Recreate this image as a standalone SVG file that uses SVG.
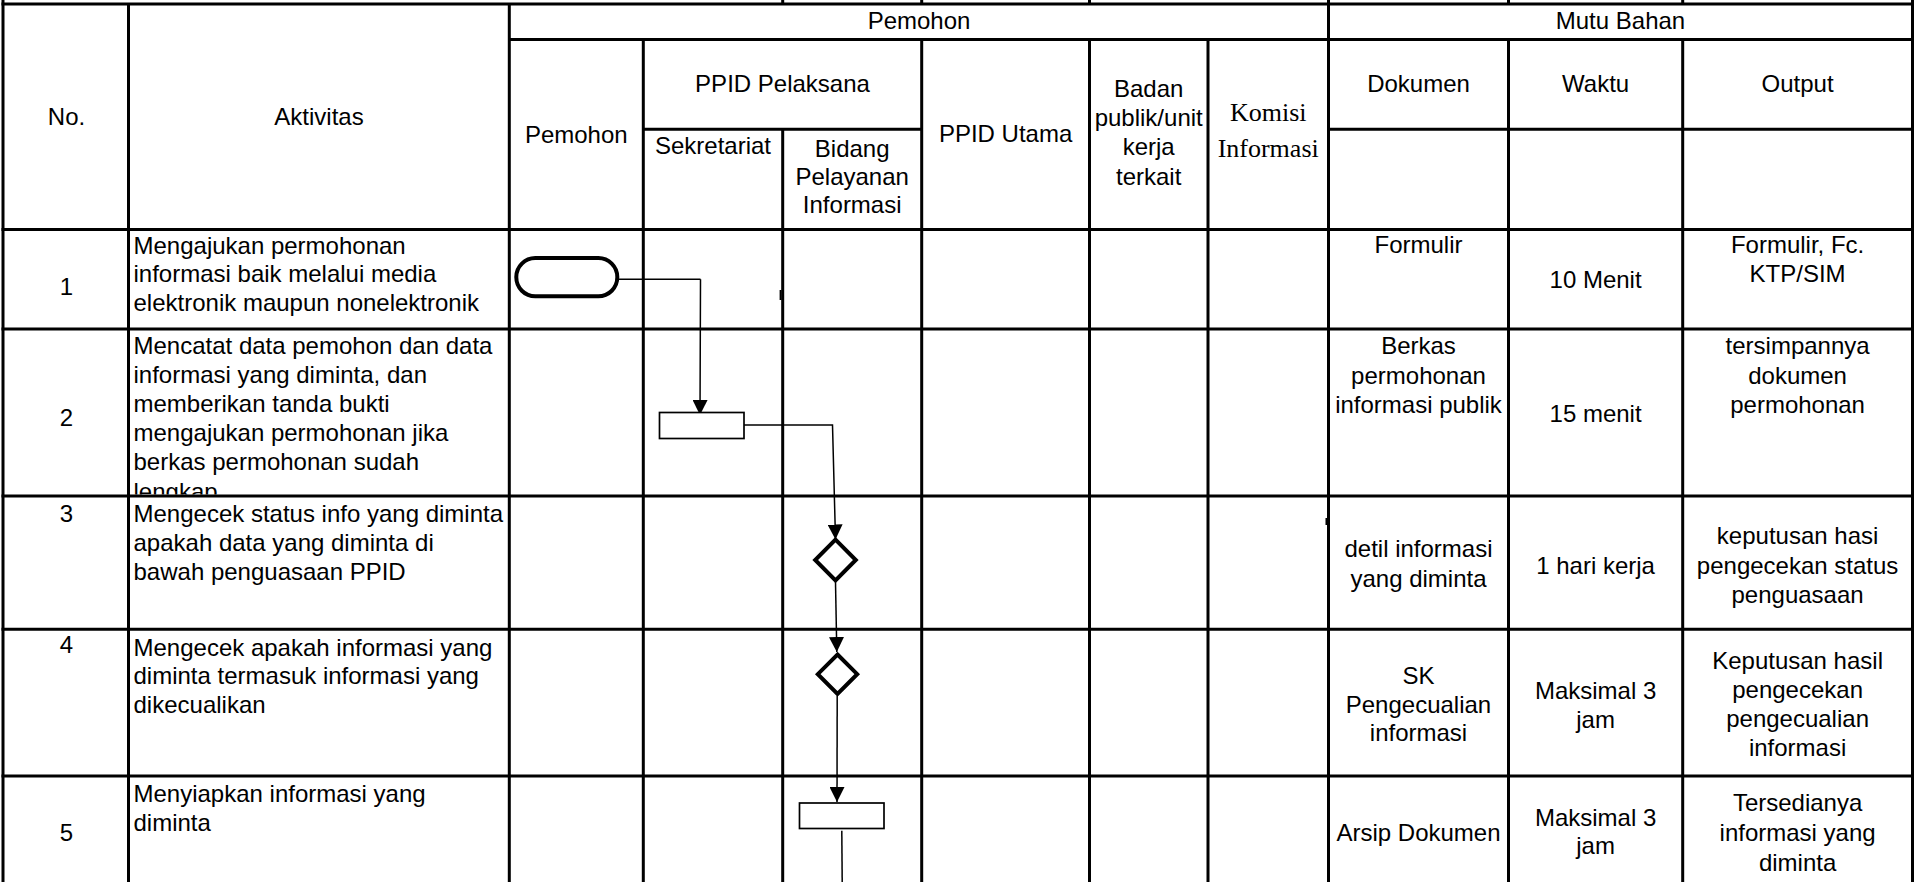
<svg xmlns="http://www.w3.org/2000/svg" width="1915" height="882" viewBox="0 0 1915 882">
<style>
.grid{stroke:#000;stroke-width:3;fill:none}
.t{font-family:"Liberation Sans",Arial,sans-serif;font-size:24px;fill:#000}
.c{text-anchor:middle}
.s{font-family:"Liberation Serif","Times New Roman",serif;font-size:26px;fill:#000;text-anchor:middle}
.thick{fill:#fff;stroke:#000;stroke-width:4}
.thin{fill:#fff;stroke:#000;stroke-width:1.7}
.conn{fill:none;stroke:#000;stroke-width:1.5}
</style>
<defs>
<marker id="arr" markerUnits="userSpaceOnUse" markerWidth="15" markerHeight="15" refX="15" refY="7.5" orient="auto" viewBox="0 0 15 15">
<path d="M0,0 L15,7.5 L0,15 z" fill="#000"/>
</marker>
<clipPath id="clip2"><rect x="130" y="331" width="378" height="163.5"/></clipPath>
</defs>
<rect x="0" y="0" width="1915" height="882" fill="#fff"/>
<g id="table" class="grid">
<path d="M1.5,4 H1914 M509.3,39.5 H1912.5 M643.3,129.3 H921.7 M1328.5,129.3 H1912.5 M1.5,229.5 H1914 M1.5,329 H1914 M1.5,496 H1914 M1.5,629.3 H1914 M1.5,776 H1914"/>
<path d="M3,0 V882 M128.5,4 V882 M509.3,4 V882 M643.3,39.5 V882 M782.7,0 V4 M782.7,129.3 V882 M921.7,0 V4 M921.7,39.5 V882 M1089.5,0 V4 M1089.5,39.5 V882 M1208,39.5 V882 M1328.5,0 V882 M1508.5,0 V4 M1508.5,39.5 V882 M1682.7,0 V4 M1682.7,39.5 V882 M1912.5,0 V882"/>
<rect x="779.6" y="290" width="2" height="10" fill="#000" stroke="none"/>
<rect x="1325.5" y="518" width="2" height="7" fill="#000" stroke="none"/>
</g>
<g id="header">
<text class="t c" x="919" y="29">Pemohon</text>
<text class="t c" x="1620.5" y="29">Mutu Bahan</text>
<text class="t c" x="66.5" y="125">No.</text>
<text class="t c" x="319" y="125">Aktivitas</text>
<text class="t c" x="576.3" y="143">Pemohon</text>
<text class="t c" x="782.5" y="92">PPID Pelaksana</text>
<text class="t c" x="713" y="153.5">Sekretariat</text>
<text class="t c" x="852.2" y="156.5">Bidang<tspan x="852.2" y="184.5">Pelayanan</tspan><tspan x="852.2" y="212.5">Informasi</tspan></text>
<text class="t c" x="1005.6" y="141.7">PPID Utama</text>
<text class="t c" x="1148.7" y="97">Badan<tspan x="1148.7" y="126">publik/unit</tspan><tspan x="1148.7" y="155">kerja</tspan><tspan x="1148.7" y="184.5">terkait</tspan></text>
<text class="s" x="1268.2" y="121">Komisi<tspan x="1268.2" y="157">Informasi</tspan></text>
<text class="t c" x="1418.5" y="92">Dokumen</text>
<text class="t c" x="1595.6" y="92">Waktu</text>
<text class="t c" x="1797.6" y="92">Output</text>
</g>
<g id="row1">
<text class="t c" x="66.5" y="295">1</text>
<text class="t" x="133.5" y="254">Mengajukan permohonan<tspan x="133.5" y="282.3">informasi baik melalui media</tspan><tspan x="133.5" y="310.7">elektronik maupun nonelektronik</tspan></text>
<text class="t c" x="1418.5" y="253.3">Formulir</text>
<text class="t c" x="1595.6" y="288">10 Menit</text>
<text class="t c" x="1797.6" y="252.5">Formulir, Fc.<tspan x="1797.6" y="282">KTP/SIM</tspan></text>
</g>
<g id="row2">
<text class="t c" x="66.5" y="425.7">2</text>
<g clip-path="url(#clip2)">
<text class="t" x="133.5" y="354">Mencatat data pemohon dan data<tspan x="133.5" y="383">informasi yang diminta, dan</tspan><tspan x="133.5" y="412">memberikan tanda bukti</tspan><tspan x="133.5" y="441">mengajukan permohonan jika</tspan><tspan x="133.5" y="470">berkas permohonan sudah</tspan><tspan x="133.5" y="500">lengkap</tspan></text>
</g>
<text class="t c" x="1418.5" y="354">Berkas<tspan x="1418.5" y="383.5">permohonan</tspan><tspan x="1418.5" y="413">informasi publik</tspan></text>
<text class="t c" x="1595.6" y="422.3">15 menit</text>
<text class="t c" x="1797.6" y="354">tersimpannya<tspan x="1797.6" y="383.5">dokumen</tspan><tspan x="1797.6" y="413">permohonan</tspan></text>
</g>
<g id="row3">
<text class="t c" x="66.5" y="521.7">3</text>
<text class="t" x="133.5" y="521.7">Mengecek status info yang diminta<tspan x="133.5" y="551">apakah data yang diminta di</tspan><tspan x="133.5" y="580">bawah penguasaan PPID</tspan></text>
<text class="t c" x="1418.5" y="557">detil informasi<tspan x="1418.5" y="586.5">yang diminta</tspan></text>
<text class="t c" x="1595.6" y="574">1 hari kerja</text>
<text class="t c" x="1797.6" y="544">keputusan hasi<tspan x="1797.6" y="573.5">pengecekan status</tspan><tspan x="1797.6" y="603">penguasaan</tspan></text>
</g>
<g id="row4">
<text class="t c" x="66.5" y="653.3">4</text>
<text class="t" x="133.5" y="655.5">Mengecek apakah informasi yang<tspan x="133.5" y="684">diminta termasuk informasi yang</tspan><tspan x="133.5" y="712.5">dikecualikan</tspan></text>
<text class="t c" x="1418.5" y="684">SK<tspan x="1418.5" y="712.5">Pengecualian</tspan><tspan x="1418.5" y="741">informasi</tspan></text>
<text class="t c" x="1595.6" y="699">Maksimal 3<tspan x="1595.6" y="728">jam</tspan></text>
<text class="t c" x="1797.6" y="669">Keputusan hasil<tspan x="1797.6" y="698">pengecekan</tspan><tspan x="1797.6" y="727">pengecualian</tspan><tspan x="1797.6" y="756">informasi</tspan></text>
</g>
<g id="row5">
<text class="t c" x="66.5" y="840.5">5</text>
<text class="t" x="133.5" y="802.2">Menyiapkan informasi yang<tspan x="133.5" y="830.5">diminta</tspan></text>
<text class="t c" x="1418.5" y="840.5">Arsip Dokumen</text>
<text class="t c" x="1595.6" y="825.5">Maksimal 3<tspan x="1595.6" y="854">jam</tspan></text>
<text class="t c" x="1797.6" y="810.5">Tersedianya<tspan x="1797.6" y="840.5">informasi yang</tspan><tspan x="1797.6" y="870.5">diminta</tspan></text>
</g>
<g id="connectors">
<path class="conn" d="M619,279.3 H700.5 M700.5,279.3 L700,415" marker-end="url(#arr)"/>
<path class="conn" d="M744,425 H832.5 L835.5,539.5" marker-end="url(#arr)"/>
<path class="conn" d="M835.5,582 L836.8,652" marker-end="url(#arr)"/>
<path class="conn" d="M837.2,696 L837,802" marker-end="url(#arr)"/>
<path class="conn" d="M841.8,830.7 L842.2,882"/>
</g>
<g id="node-start">
<rect class="thick" x="516.3" y="258" width="101" height="38.3" rx="19" ry="19"/>
</g>
<g id="node-catat">
<rect class="thin" x="659.5" y="412.5" width="84.5" height="26"/>
</g>
<g id="node-cek-status">
<path class="thick" d="M835.5,539.7 L855.8,560 L835.5,580.3 L815.2,560 Z"/>
</g>
<g id="node-cek-kecuali">
<path class="thick" d="M837.5,654.5 L857.2,674.2 L837.5,693.9 L817.8,674.2 Z"/>
</g>
<g id="node-siapkan">
<rect class="thin" x="799.5" y="803" width="84.5" height="25.5"/>
</g>
</svg>
